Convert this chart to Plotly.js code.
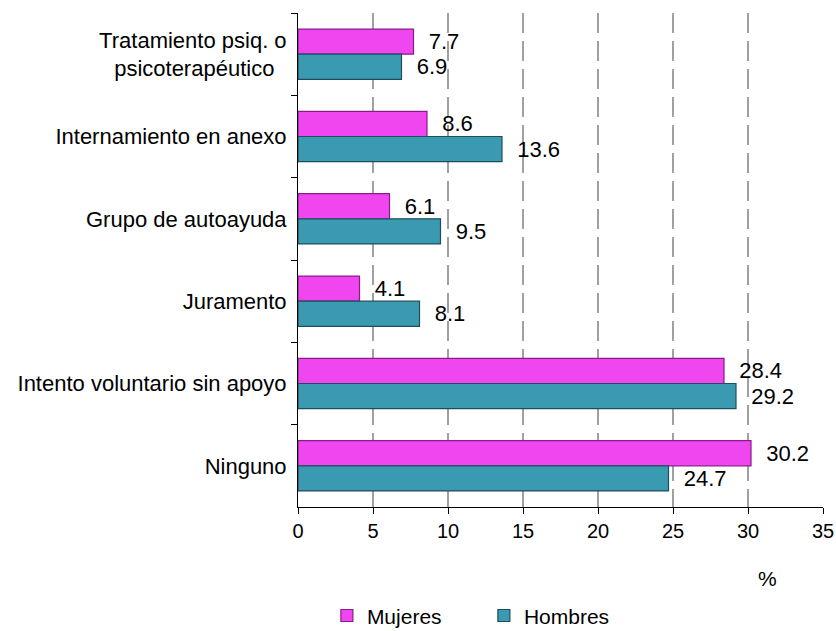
<!DOCTYPE html>
<html>
<head>
<meta charset="utf-8">
<script src="https://cdn.plot.ly/plotly-3.0.1.min.js"></script>
<style>html,body{margin:0;padding:0;background:#fff;}#chart{width:836px;height:631px;}</style>
</head>
<body>
<div id="chart"></div>
<script>
// Categories, top to bottom as shown
const categories = [
  "Tratamiento psiq. o<br>psicoterapéutico\u00A0\u00A0",
  "Internamiento en anexo",
  "Grupo de autoayuda",
  "Juramento",
  "Intento voluntario sin apoyo",
  "Ninguno"
];
const mujeres = [7.7, 8.6, 6.1, 4.1, 28.4, 30.2];
const hombres = [6.9, 13.6, 9.5, 8.1, 29.2, 24.7];
const xTicks = [0, 5, 10, 15, 20, 25, 30, 35];
const seriesNames = ["Mujeres", "Hombres"];

const FONT = "Liberation Sans, Arial, sans-serif";
const lblPrefix = "\u00A0\u00A0";

const traces = [
  {
    type: "bar", orientation: "h", name: seriesNames[0],
    y: categories, x: mujeres,
    marker: {color: "#F046F0", line: {color: "#8A1C8A", width: 1.2}},
    text: mujeres.map(v => lblPrefix + v.toFixed(1)),
    texttemplate: "%{text}",
    textposition: "outside", constraintext: "none", cliponaxis: false,
    textfont: {family: FONT, size: 22, color: "#000"},
    hoverinfo: "x+name"
  },
  {
    type: "bar", orientation: "h", name: seriesNames[1],
    y: categories, x: hombres,
    marker: {color: "#3A9AB1", line: {color: "#1E4E5A", width: 1.2}},
    text: hombres.map(v => lblPrefix + v.toFixed(1)),
    texttemplate: "%{text}",
    textposition: "outside", constraintext: "none", cliponaxis: false,
    textfont: {family: FONT, size: 22, color: "#000"},
    hoverinfo: "x+name"
  }
];

const layout = {
  width: 836, height: 631,
  margin: {l: 298, r: 13, t: 13, b: 124, pad: 0},
  paper_bgcolor: "#fff", plot_bgcolor: "#fff",
  font: {family: FONT, size: 21, color: "#000"},
  barmode: "group", bargap: 0.39, bargroupgap: 0,
  showlegend: true,
  legend: {
    orientation: "h", xref: "paper", x: 0.055, xanchor: "left",
    yref: "container", y: 0.024, yanchor: "middle",
    font: {family: FONT, size: 21, color: "#000"},
    entrywidth: 112, entrywidthmode: "pixels",
    traceorder: "normal", bgcolor: "rgba(0,0,0,0)"
  },
  xaxis: {
    range: [0, 35], tickvals: xTicks, ticktext: xTicks.map(String),
    showgrid: true, gridcolor: "#A0A0A0", gridwidth: 2.4, griddash: "20px,8px",
    zeroline: false, showline: true, linecolor: "#000", linewidth: 1,
    ticks: "outside", ticklen: 6, tickcolor: "#000", tickwidth: 1,
    tickfont: {family: FONT, size: 20, color: "#000"},
    fixedrange: true
  },
  yaxis: {
    type: "category", autorange: "reversed",
    showgrid: false, zeroline: false,
    showline: true, linecolor: "#000", linewidth: 1,
    ticks: "outside", ticklen: 6, tickcolor: "#000", tickson: "boundaries",
    ticklabelstandoff: 6,
    tickfont: {family: FONT, size: 22, color: "#000"},
    fixedrange: true
  },
  annotations: [
    {text: "%", xref: "paper", yref: "paper", x: 0.895, y: -0.145,
     xanchor: "center", yanchor: "middle", showarrow: false,
     font: {family: FONT, size: 21, color: "#000"}}
  ]
};

Plotly.newPlot("chart", traces, layout, {staticPlot: true, displayModeBar: false});
</script>
</body>
</html>
